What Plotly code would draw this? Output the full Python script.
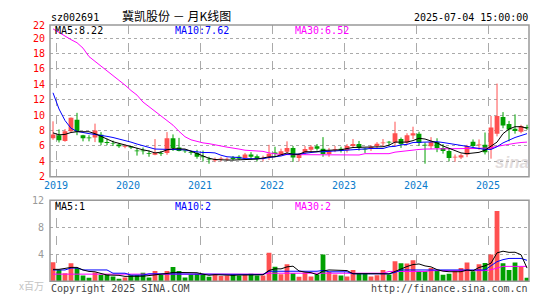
import plotly.graph_objects as go

# ---------------- data ----------------
months = [f"{y}-{m:02d}" for y in range(2018, 2026) for m in range(1, 13)]
months = months[months.index("2018-12"):months.index("2025-07") + 1]

year_labels = ["2019", "2020", "2021", "2022", "2023", "2024", "2025"]

open_ = [7.0, 7.4, 6.66, 7.9, 9.4, 7.4, 7.1, 7.1, 7.45, 6.5,
         6.3, 6.2, 5.9, 5.95, 5.4, 5.4, 5.1, 4.85, 5.1, 5.1,
         7.0, 5.8, 5.4, 5.2, 5.1, 4.65, 4.35, 4.1, 4.28, 4.25,
         4.5, 4.6, 4.45, 4.9, 4.65, 4.3, 4.6, 5.15, 4.95, 5.25,
         5.75, 4.45, 5.15, 5.5, 5.95, 5.65, 4.95, 5.5, 5.65, 5.45,
         6.0, 6.25, 5.65, 5.65, 6.0, 6.35, 6.55, 6.45, 6.9, 6.45,
         7.35, 7.6, 6.15, 5.95, 6.5, 5.75, 5.35, 4.5, 4.5, 4.9,
         6.55, 6.1, 6.15, 5.6, 7.6, 9.75, 8.85, 8.25, 7.85, 8.45]
high = [9.2, 8.15, 8.2, 9.7, 10.3, 7.45, 7.4, 8.9, 7.8, 6.95,
        6.7, 6.4, 6.2, 6.0, 5.75, 5.8, 5.4, 6.9, 5.35, 7.8,
        7.5, 7.05, 5.5, 5.4, 5.5, 5.4, 4.6, 4.5, 4.6, 4.5,
        4.7, 4.8, 5.1, 5.2, 4.9, 4.75, 6.15, 5.9, 5.65, 6.6,
        6.0, 5.1, 6.0, 6.1, 6.25, 7.15, 5.75, 6.0, 5.9, 6.25,
        6.9, 6.65, 5.75, 6.1, 6.5, 6.9, 6.65, 9.15, 7.1, 7.65,
        8.5, 7.85, 6.45, 7.15, 7.0, 6.25, 5.75, 4.9, 5.0, 6.15,
        6.85, 6.85, 7.75, 9.9, 14.1, 10.4, 9.25, 10.1, 8.75, 8.75]
low = [6.8, 6.45, 6.55, 7.8, 7.4, 6.6, 6.6, 6.5, 6.1, 6.1,
       6.0, 5.75, 5.7, 5.6, 4.75, 4.9, 4.6, 4.8, 4.7, 4.85,
       5.35, 5.3, 5.1, 4.85, 4.35, 4.0, 3.7, 3.9, 4.0, 4.1,
       4.15, 4.2, 4.25, 4.25, 4.0, 4.0, 4.2, 4.6, 4.75, 4.9,
       3.95, 4.0, 4.9, 5.2, 5.4, 4.6, 4.6, 5.2, 5.15, 5.15,
       5.75, 5.4, 5.1, 5.35, 5.75, 6.0, 6.05, 6.0, 5.75, 6.25,
       6.9, 6.0, 3.7, 5.6, 5.2, 5.0, 4.0, 3.95, 4.3, 4.55,
       5.8, 5.5, 4.9, 4.35, 7.25, 8.3, 6.6, 7.6, 7.65, 8.1]
close = [7.5, 6.75, 7.9, 9.65, 7.85, 7.0, 7.0, 8.0, 6.45, 6.4,
         6.25, 5.95, 6.0, 5.8, 5.3, 5.3, 5.0, 5.1, 5.0, 7.0,
         5.75, 5.35, 5.3, 5.1, 4.6, 4.55, 4.25, 4.3, 4.33, 4.35,
         4.3, 4.35, 4.9, 4.6, 4.3, 4.35, 5.0, 4.95, 5.3, 5.75,
         4.5, 4.85, 5.6, 5.9, 5.65, 4.95, 5.35, 5.6, 5.45, 6.0,
         6.25, 5.75, 5.55, 5.9, 6.3, 6.45, 6.45, 7.65, 6.25, 7.4,
         7.65, 6.4, 6.05, 6.5, 5.75, 5.35, 4.45, 4.6, 4.8, 6.0,
         6.0, 6.2, 5.2, 8.4, 9.9, 8.65, 8.15, 7.95, 8.6, 8.3]

ma5 = [7.7, 7.45, 7.5, 7.75, 7.85, 7.85, 7.85, 7.6, 7.2, 6.9,
       6.55, 6.35, 6.1, 5.85, 5.65, 5.5, 5.35, 5.1, 5.2, 5.5,
       5.65, 5.65, 5.6, 5.33, 5.0, 4.7, 4.4, 4.25, 4.17, 4.17,
       4.17, 4.2, 4.25, 4.25, 4.3, 4.45, 4.58, 4.6, 4.9, 5.1,
       4.92, 4.92, 5.25, 5.25, 5.25, 5.42, 5.42, 5.42, 5.5, 5.67,
       5.8, 5.83, 5.83, 5.83, 5.83, 5.9, 6.1, 6.5, 6.5, 6.5,
       6.7, 7.0, 6.9, 6.67, 6.4, 6.0, 5.67, 5.35, 5.1, 5.0,
       5.05, 5.17, 5.45, 6.0, 6.5, 7.6, 8.2, 8.5, 8.5, 8.3]
ma10 = [12.9, 10.8, 9.3, 8.3, 7.9, 7.7, 7.6, 7.5, 7.4, 7.25,
        7.1, 6.9, 6.75, 6.5, 6.25, 6.05, 5.8, 5.6, 5.58, 5.58,
        5.58, 5.55, 5.5, 5.33, 5.2, 5.15, 5.15, 5.1, 4.8, 4.6,
        4.55, 4.5, 4.35, 4.33, 4.33, 4.35, 4.5, 4.6, 4.7, 4.92,
        4.92, 4.95, 5.05, 5.15, 5.25, 5.25, 5.3, 5.42, 5.42, 5.45,
        5.58, 5.58, 5.6, 5.67, 5.67, 5.67, 5.9, 5.95, 6.15, 6.2,
        6.45, 6.5, 6.5, 6.55, 6.55, 6.45, 6.35, 6.2, 6.1, 5.95,
        5.8, 5.65, 5.55, 5.55, 5.9, 6.4, 6.8, 7.1, 7.35, 7.6]
ma30 = [21.2, 20.7, 20.2, 19.8, 19.4, 18.7, 17.6, 17.0, 16.3, 15.8,
        15.2, 14.5, 13.9, 13.2, 12.6, 11.7, 11.1, 10.4, 9.8, 9.2,
        8.7, 7.9, 7.2, 6.8, 6.55, 6.4, 6.3, 6.1, 6.0, 5.85,
        5.75, 5.6, 5.45, 5.4, 5.35, 5.3, 5.1, 4.95, 4.88, 4.88,
        4.88, 4.88, 4.88, 4.88, 4.88, 4.88, 4.88, 4.88, 4.83, 4.83,
        4.83, 4.83, 5.0, 5.0, 5.0, 5.0, 5.0, 5.2, 5.3, 5.42,
        5.45, 5.55, 5.6, 5.62, 5.67, 5.67, 5.67, 5.67, 5.67, 5.67,
        5.67, 5.67, 5.67, 5.75, 5.95, 6.1, 6.25, 6.35, 6.45, 6.5]

volume = [2.8, 1.67, 1.19, 2.67, 1.95, 0.86, 0.52, 1.29, 0.95, 1.0,
          0.71, 0.38, 0.57, 0.9, 0.9, 1.24, 0.57, 1.52, 0.95, 1.52,
          2.1, 1.52, 0.57, 1.0, 1.1, 1.05, 0.67, 1.05, 0.76, 0.86,
          1.05, 0.86, 0.95, 1.1, 0.86, 0.86, 4.24, 2.14, 1.05, 2.52,
          1.2, 0.67, 1.29, 0.71, 1.0, 3.95, 1.38, 1.0, 0.86, 0.71,
          1.67, 1.19, 1.1, 0.71, 0.9, 1.67, 1.0, 2.95, 2.67, 2.62,
          3.1, 1.48, 1.48, 1.95, 1.57, 0.95, 1.1, 1.48, 1.95, 2.76,
          1.48, 2.52, 2.71, 3.95, 10.4, 2.67, 1.67, 2.76, 2.14, 0.52]
vma5 = [1.76, 1.76, 1.9, 2.05, 2.05, 1.67, 1.45, 1.4, 1.15, 0.92,
        0.9, 0.87, 0.72, 0.7, 0.68, 0.75, 0.84, 1.0, 1.05, 1.15,
        1.3, 1.3, 1.3, 1.35, 1.26, 1.05, 0.88, 0.97, 0.93, 0.88,
        0.88, 0.92, 0.9, 0.96, 0.96, 0.95, 1.6, 1.84, 1.83, 2.13,
        2.23, 1.52, 1.35, 1.28, 0.97, 1.52, 1.67, 1.61, 1.64, 1.58,
        1.12, 1.09, 1.11, 1.08, 1.11, 1.11, 1.08, 1.45, 1.84, 2.18,
        2.47, 2.56, 2.27, 2.13, 1.72, 1.49, 1.41, 1.41, 1.41, 1.65,
        1.55, 2.04, 2.28, 2.68, 4.21, 4.45, 4.28, 4.3, 3.93, 1.95]
vma10 = [1.67, 1.67, 1.67, 1.95, 1.95, 1.67, 1.67, 1.67, 1.67, 1.67,
         1.19, 1.19, 1.19, 0.9, 0.9, 0.9, 1.1, 1.1, 1.1, 1.1,
         1.1, 1.1, 1.1, 1.1, 1.1, 1.1, 1.1, 1.1, 1.1, 1.1,
         1.1, 1.0, 1.0, 1.0, 1.0, 1.0, 1.48, 1.48, 1.48, 1.48,
         1.48, 1.48, 1.48, 1.48, 1.48, 1.6, 1.4, 1.4, 1.4, 1.4,
         1.1, 1.1, 1.1, 1.1, 1.1, 1.1, 1.1, 1.3, 1.67, 1.67,
         1.67, 1.67, 1.67, 1.76, 1.76, 1.76, 1.76, 1.76, 1.76, 1.76,
         1.67, 1.67, 1.67, 2.3, 2.9, 3.2, 3.38, 3.38, 3.38, 3.1]
vma30 = [1.05, 1.05, 1.05, 1.05, 1.05, 1.05, 1.05, 1.05, 1.05, 1.05,
         1.05, 1.05, 1.05, 1.05, 1.05, 1.05, 1.05, 1.05, 1.05, 1.05,
         1.05, 1.05, 1.05, 1.05, 1.05, 1.05, 1.05, 1.05, 1.05, 1.05,
         1.05, 1.05, 1.05, 1.05, 1.05, 1.05, 1.19, 1.19, 1.19, 1.19,
         1.19, 1.19, 1.19, 1.19, 1.19, 1.19, 1.19, 1.19, 1.19, 1.19,
         1.19, 1.19, 1.19, 1.19, 1.19, 1.19, 1.45, 1.45, 1.45, 1.45,
         1.45, 1.45, 1.45, 1.57, 1.57, 1.57, 1.57, 1.57, 1.57, 1.57,
         1.57, 1.57, 1.57, 1.7, 1.9, 2.2, 2.2, 2.2, 2.2, 2.2]

# ---------------- styling / layout ----------------
W, H = 545, 300
RED, GREEN = "#ff5050", "#00a000"
GRID = "#aaaaaa"
MONO = "DejaVu Sans Mono"


def fx(p):
    return p / W


def fy(p):
    return 1 - p / H


x = list(range(len(months)))
up = [c >= o for o, c in zip(open_, close)]
colors = [RED if u else GREEN for u in up]

fig = go.Figure()

# wicks
for flag, col in ((True, RED), (False, GREEN)):
    wx, wy = [], []
    for i in x:
        if up[i] == flag:
            wx += [i, i, None]
            wy += [low[i], high[i], None]
    fig.add_trace(go.Scatter(x=wx, y=wy, mode="lines", line=dict(color=col, width=1),
                             xaxis="x", yaxis="y", hoverinfo="skip"))

# bodies
body_base = [min(o, c) for o, c in zip(open_, close)]
body_h = [max(abs(c - o), 0.08) for o, c in zip(open_, close)]
fig.add_trace(go.Bar(x=x, y=body_h, base=body_base, width=0.8,
                     marker=dict(color=colors, line=dict(width=0)),
                     xaxis="x", yaxis="y", hoverinfo="skip"))

# price MAs
for arr, col in ((ma30, "#ff00ff"), (ma10, "#0000ff"), (ma5, "#000000")):
    fig.add_trace(go.Scatter(x=x, y=arr, mode="lines", line=dict(color=col, width=1),
                             xaxis="x", yaxis="y", hoverinfo="skip"))

# volume bars
fig.add_trace(go.Bar(x=x, y=volume, width=0.8,
                     marker=dict(color=colors, line=dict(width=0)),
                     xaxis="x2", yaxis="y2", hoverinfo="skip"))
for arr, col in ((vma30, "#ff00ff"), (vma10, "#0000ff"), (vma5, "#000000")):
    fig.add_trace(go.Scatter(x=x, y=arr, mode="lines", line=dict(color=col, width=1),
                             xaxis="x2", yaxis="y2", hoverinfo="skip"))

year_pos = [months.index(f"{y}-01") - 0.5 for y in year_labels]
xr = [-0.5, len(months) - 0.67]
xdom = [fx(50), fx(529)]

xaxis_common = dict(range=xr, domain=xdom, showticklabels=False, ticks="",
                    tickvals=year_pos, showgrid=True, gridcolor=GRID, griddash="dash",
                    gridwidth=1, zeroline=False, showline=False, fixedrange=True)

fig.update_layout(
    width=W, height=H, margin=dict(l=0, r=0, t=0, b=0),
    paper_bgcolor="white", plot_bgcolor="white", showlegend=False,
    barmode="overlay", hovermode=False,
    xaxis=dict(anchor="y", **xaxis_common),
    xaxis2=dict(anchor="y2", **xaxis_common),
    yaxis=dict(domain=[fy(177.3), fy(19.8)], range=[2, 21.69], anchor="x",
               tickvals=[2, 4, 6, 8, 10, 12, 14, 16, 18, 20, 21.69],
               ticktext=["2", "4", "6", "8", "10", "12", "14", "16", "18", "20", "22"],
               tickfont=dict(family=MONO, size=10, color="#ff0000"),
               showgrid=True, gridcolor=GRID, griddash="dot", gridwidth=1,
               zeroline=False, showline=False, ticks="", ticklabelstandoff=4,
               fixedrange=True),
    yaxis2=dict(domain=[fy(285.7), fy(201.7)], range=[0, 12], anchor="x2",
                tickvals=[4, 8, 12], ticktext=["4", "8", "12"],
                tickfont=dict(family=MONO, size=10, color="#999999"),
                showgrid=True, gridcolor=GRID, griddash="dot", gridwidth=1,
                zeroline=False, showline=False, ticks="", ticklabelstandoff=5,
                fixedrange=True),
)

# panel borders
for xa, ya in (("x", "y"), ("x2", "y2")):
    fig.add_shape(type="rect", xref=f"{xa} domain", yref=f"{ya} domain",
                  x0=0, x1=1, y0=0, y1=1, line=dict(color="#999999", width=1.5),
                  fillcolor="rgba(0,0,0,0)", layer="above")

ann = []


def text(t, xp, yp, color="#000000", size=10, xanchor="left", family=MONO, **kw):
    ann.append(dict(text=t, x=fx(xp), y=fy(yp), xref="paper", yref="paper",
                    xanchor=xanchor, yanchor="middle", showarrow=False,
                    font=dict(family=family, size=size, color=color), **kw))


# header
text("sz002691", 49, 12)
text("冀凯股份 － 月K线图", 120, 10, size=12, family="Noto Sans CJK SC")
text("2025-07-04 15:00:00", 530, 12, xanchor="right")
# MA legends
text("MA5:8.22", 53, 25)
text("MA10:7.62", 173, 25, color="#0000ff")
text("MA30:6.52", 293, 25, color="#ff00ff")
text("MA5:1", 53, 208)
text("MA10:2", 173, 208, color="#0000ff")
text("MA30:2", 293, 208, color="#ff00ff")
# year labels
for yl, yp in zip(year_labels, year_pos):
    ann.append(dict(text=yl, x=yp, y=fy(186.5), xref="x", yref="paper",
                    xanchor="center", yanchor="middle", showarrow=False,
                    font=dict(family=MONO, size=10, color="#0a7ccc")))
# footer
text("x百万", 46, 290, color="#c4c4c4", xanchor="right", size=10,
     family="Noto Sans CJK SC")
text("Copyright 2025 SINA.COM", 49, 293, color="#444444")
text("http://finance.sina.com.cn", 530, 293, color="#444444", xanchor="right")
# watermark
text("<b><i>sina</i></b>", 512, 162, color="rgba(200,190,190,0.55)", size=17,
     xanchor="center", family="Liberation Sans")

fig.update_layout(annotations=ann)
fig.write_html("out.html", config={"displayModeBar": False, "staticPlot": True})
